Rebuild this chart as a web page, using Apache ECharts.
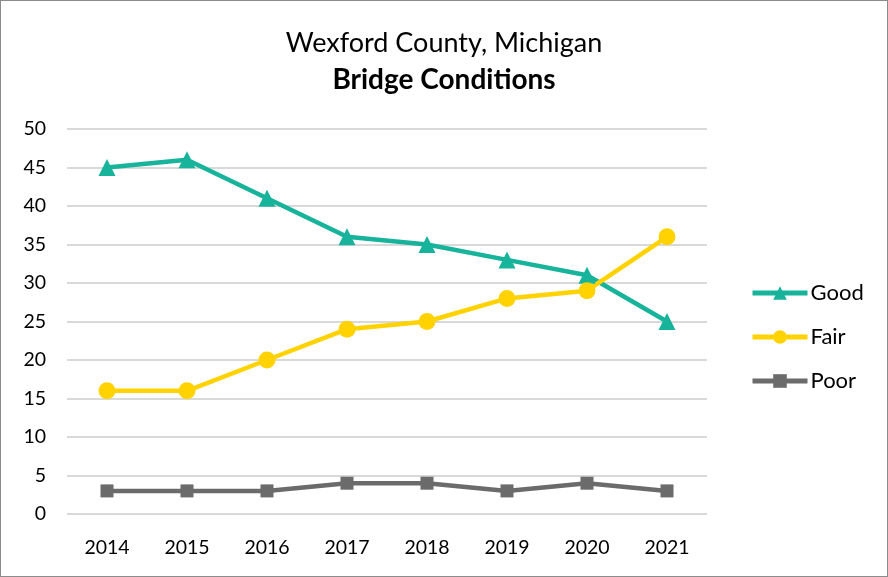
<!DOCTYPE html>
<html><head><meta charset="utf-8">
<script src="https://cdn.jsdelivr.net/npm/echarts@6/dist/echarts.min.js"></script>
<style>
html,body{margin:0;padding:0;background:#fff;}
#c{position:absolute;left:0;top:0;width:886px;height:575px;border:1px solid #8c8c8c;}
</style></head><body>
<div id="c"></div>
<script>
const years = ['2014','2015','2016','2017','2018','2019','2020','2021'];
const good = [45,46,41,36,35,33,31,25];
const fair = [16,16,20,24,25,28,29,36];
const poor = [3,3,3,4,4,3,4,3];
const titleLine1 = 'Wexford County, Michigan';
const titleLine2 = 'Bridge Conditions';
const FONT = 'Lato, "Open Sans", sans-serif';

const chart = echarts.init(document.getElementById('c'));
const mk = (name, data, color, symbol, size) => ({
  name, type: 'line', data, symbol, symbolSize: size, showAllSymbol: true,
  lineStyle: {color, width: 4.5}, itemStyle: {color},
  emphasis: {disabled: true}
});
chart.setOption({
  animation: false,
  textStyle: {fontFamily: FONT},
  title: [
    {text: titleLine1, left: 'center', top: 24, textStyle: {fontFamily: FONT, fontSize: 27, fontWeight: 'normal', color: '#000'}},
    {text: titleLine2, left: 'center', top: 60, textStyle: {fontFamily: FONT, fontSize: 28, fontWeight: 'bold', color: '#000'}}
  ],
  legend: {
    orient: 'vertical', left: 749, top: 281, itemGap: 22, padding: 0,
    itemWidth: 55, itemHeight: 17,
    lineStyle: {width: 5},
    textStyle: {fontFamily: FONT, fontSize: 22, color: '#000', padding: [0,0,0,-2]},
    data: ['Good','Fair','Poor']
  },
  grid: {left: 66, right: 180, top: 128, bottom: 62},
  xAxis: {
    type: 'category', data: years, boundaryGap: true,
    axisLine: {show: false}, axisTick: {show: false},
    axisLabel: {fontFamily: FONT, fontSize: 19.5, color: '#000', margin: 24}
  },
  yAxis: {
    type: 'value', min: 0, max: 50, interval: 5,
    axisLine: {show: false}, axisTick: {show: false},
    axisLabel: {fontFamily: FONT, fontSize: 19.5, color: '#000', margin: 21},
    splitLine: {lineStyle: {color: '#d9d9d9', width: 2}}
  },
  series: [
    mk('Good', good, '#17B39B', 'triangle', 17),
    mk('Fair', fair, '#FFD200', 'circle', 17),
    mk('Poor', poor, '#6B6B6B', 'rect', 13)
  ]
});
</script>
</body></html>
